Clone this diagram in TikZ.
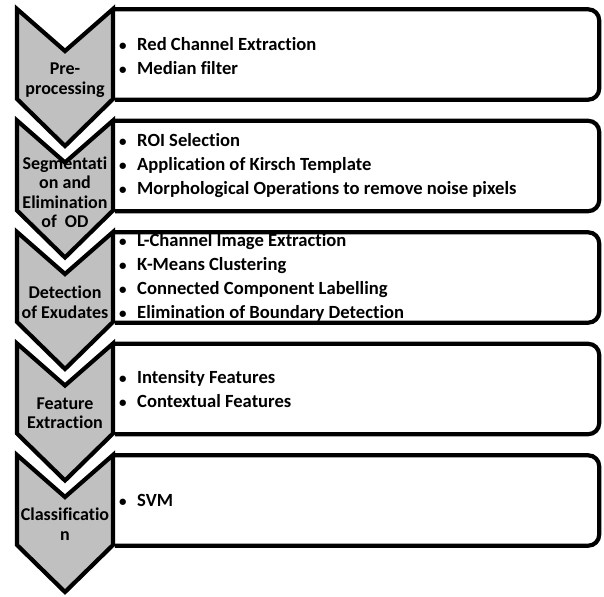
\documentclass[tikz,border=0pt]{standalone}
\usepackage{fontspec}
\setmainfont{Carlito}[RawFeature=-liga]
\definecolor{chevgray}{RGB}{192,192,192}
\tikzset{
  x=1pt,y=-1pt,
  chev/.style={fill=chevgray,draw=black,line width=4.2pt,miter limit=10},
  boxline/.style={draw=black,line width=4.2pt,rounded corners=11pt},
  boxnode/.style={draw=none,minimum width=484pt,minimum height=90pt,inner sep=0pt},
  chevtext/.style={align=center,inner sep=0pt,font=\bfseries\fontsize{18}{19.5}\selectfont},
  bullets/.style={anchor=west,align=left,inner sep=0pt,font=\bfseries\fontsize{18.6}{24}\selectfont}
}
\newcommand{\bul}{\makebox[18pt][l]{\raisebox{0.5pt}{\fontsize{15}{15}\selectfont\textbullet}}}
\newcommand{\chevshape}[1]{%
  \draw[chev] (17,#1) -- (65,#1+42) -- (113,#1) -- (113,#1+90) -- (65,#1+137) -- (17,#1+90) -- cycle;}
\begin{document}
\begin{tikzpicture}
\useasboundingbox (0,0) rectangle (604,596);
% boxes
\foreach \i/\c in {1/54.5,2/166,3/277.5,4/389,5/500.5}{
  \node[boxnode] (b\i) at (357,\c) {};
  \draw[boxline] (b\i.north west) -- (b\i.north east) -- (b\i.south east) -- (b\i.south west);
}
\node[bullets] (t1) at (119,56.5) {\bul Red Channel Extraction\\\bul Median filter};
\node[bullets] (t2) at (119,166) {\bul ROI Selection\\\bul Application of Kirsch Template\\\bul Morphological Operations to remove noise pixels};
\node[bullets] (t3) at (119,277.5) {\bul L-Channel Image Extraction\\\bul K-Means Clustering\\\bul Connected Component Labelling\\\bul Elimination of Boundary Detection};
\node[bullets] (t4) at (119,389.5) {\bul Intensity Features\\\bul Contextual Features};
\node[bullets] (t5) at (119,500.5) {\bul SVM};
% chevrons
\chevshape{9}
\node[chevtext] (c1) at (65,80) {Pre-\\processing};
\chevshape{120.5}
\node[chevtext] (c2) at (65,192) {Segmentati\\on and\\Elimination\\of~ OD};
\chevshape{232}
\node[chevtext] (c3) at (65,302) {Detection\\of Exudates};
\chevshape{343.5}
\node[chevtext] (c4) at (65,413) {Feature\\Extraction};
\chevshape{455}
\node[chevtext] (c5) at (65,524) {Classificatio\\n};
\end{tikzpicture}
\end{document}
